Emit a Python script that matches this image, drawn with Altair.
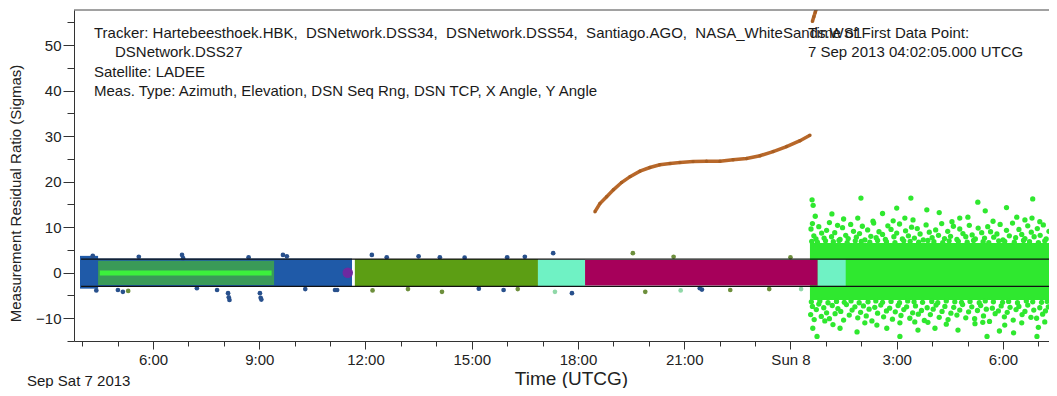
import altair as alt
import pandas as pd

# ---------------- data ----------------
# time axis: hours since Sat 7 Sep 2013 00:00 UTCG ; y: residual ratio (sigmas)

# dense residual bands (start h, end h, low, high, colour) in drawing order
band_start = [3.94, 4.42, 4.45, 4.50, 11.70, 16.87, 18.20, 24.77]
band_end   = [4.45, 11.62, 9.42, 9.35, 16.87, 18.20, 24.77, 25.56]
band_low   = [-3.5, -3.0, -2.7, -0.6, -2.9, -2.9, -2.8, -2.9]
band_high  = [3.7, 3.1, 2.6, 0.5, 3.0, 2.9, 2.8, 2.9]
band_color = ["#1f5aa8", "#1f5aa8", "#3a9a58", "#3cf03c",
              "#5c9e14", "#6ff2c4", "#a6005a", "#6ff2c4"]

# last pass (bright green) dense core
core_start = [24.55]
core_end = [31.30]
core_low = [-6.0]
core_high = [6.5]

# scattered bright-green residuals (h, sigma)
cloud_upper = [
    (24.58, 9.6), (24.62, 10.8), (24.66, 8.1), (24.72, 7.4), (24.8, 10.1), (24.88, 8.7),
    (24.95, 7.6), (25.02, 9.3), (25.1, 11.0), (25.16, 7.9), (25.25, 8.8), (25.33, 10.4),
    (25.4, 7.3), (25.47, 9.9), (25.56, 8.2), (25.63, 7.5), (25.7, 10.6), (25.78, 9.1),
    (25.86, 7.8), (25.95, 8.6), (26.03, 10.2), (26.1, 7.2), (26.18, 9.4), (26.27, 8.0),
    (26.35, 10.9), (26.42, 7.7), (26.5, 9.0), (26.6, 8.4), (26.68, 7.3), (26.75, 10.3),
    (26.84, 9.5), (26.92, 7.9), (27.0, 8.7), (27.08, 10.7), (27.16, 7.4), (27.25, 9.2),
    (27.33, 8.1), (27.42, 10.0), (27.5, 7.6), (27.58, 9.7), (27.66, 8.5), (27.75, 7.2),
    (27.83, 10.5), (27.92, 8.9), (28.0, 7.7), (28.1, 9.4), (28.18, 8.2), (28.27, 10.8),
    (28.35, 7.5), (28.44, 9.1), (28.52, 8.0), (28.6, 10.2), (28.7, 7.3), (28.78, 9.6),
    (28.87, 8.6), (28.95, 7.9), (29.05, 10.4), (29.13, 8.3), (29.22, 7.4), (29.3, 9.8),
    (29.4, 8.8), (29.48, 7.6), (29.57, 10.1), (29.65, 9.0), (29.74, 7.8), (29.83, 8.5),
    (29.92, 10.6), (30.0, 7.2), (30.1, 9.3), (30.18, 8.1), (30.27, 10.9), (30.36, 7.7),
    (30.45, 9.5), (30.53, 8.4), (30.62, 7.5), (30.7, 10.3), (30.8, 8.9), (30.88, 7.9),
    (30.97, 9.7), (31.05, 8.2), (31.14, 10.5), (31.22, 7.4), (31.3, 9.1),
]
cloud_upper_mid = [
    (24.6, 6.9), (24.76, 6.7), (24.99, 7.0), (25.21, 6.8), (25.37, 7.1), (25.6, 6.6),
    (25.83, 7.0), (26.0, 6.9), (26.24, 6.7), (26.46, 7.1), (26.71, 6.8), (26.95, 6.6),
    (27.2, 7.0), (27.38, 6.9), (27.62, 6.7), (27.88, 7.1), (28.05, 6.8), (28.3, 6.6),
    (28.48, 7.0), (28.74, 6.9), (28.99, 6.7), (29.17, 7.1), (29.44, 6.8), (29.6, 6.6),
    (29.88, 7.0), (30.05, 6.9), (30.32, 6.7), (30.58, 7.1), (30.75, 6.8), (31.0, 6.6),
    (31.18, 7.0),
]
cloud_upper_far = [
    (24.61, 16.0), (24.64, 14.8), (24.7, 12.4), (25.17, 12.9), (25.9, 12.0), (26.33, 11.3),
    (25.99, 16.4), (27.0, 14.2), (27.4, 16.4), (27.23, 12.0), (27.46, 11.6), (27.85, 13.8),
    (28.56, 11.2), (28.78, 12.0), (29.01, 12.2), (29.29, 15.5), (29.72, 11.3), (30.39, 12.2),
    (30.62, 11.6), (30.84, 16.2), (30.82, 12.0), (31.04, 11.2), (26.6, 13.0), (28.2, 13.2),
    (29.5, 13.6), (25.5, 11.8), (26.9, 11.4), (30.1, 14.3),
]
cloud_lower = [
    (24.57, -9.2), (24.62, -7.4), (24.67, -10.3), (24.73, -8.1), (24.8, -6.9), (24.87, -9.6),
    (24.94, -7.7), (25.02, -8.8), (25.1, -10.1), (25.18, -7.2), (25.26, -9.0), (25.34, -7.9),
    (25.42, -8.5), (25.5, -10.4), (25.58, -7.0), (25.66, -9.3), (25.74, -8.2), (25.82, -7.5),
    (25.9, -9.9), (25.98, -8.7), (26.06, -7.3), (26.14, -9.5), (26.22, -8.0), (26.3, -10.6),
    (26.38, -7.6), (26.46, -8.9), (26.55, -7.1), (26.63, -9.7), (26.71, -8.4), (26.8, -7.8),
    (26.88, -10.2), (26.96, -8.6), (27.04, -7.2), (27.12, -9.4), (27.2, -8.1), (27.28, -7.5),
    (27.37, -10.0), (27.45, -8.8), (27.53, -7.3), (27.61, -9.1), (27.7, -8.3), (27.78, -10.5),
    (27.86, -7.7), (27.95, -9.2), (28.03, -8.0), (28.11, -7.1), (28.2, -9.8), (28.28, -8.5),
    (28.36, -7.4), (28.45, -10.3), (28.53, -8.9), (28.61, -7.6), (28.7, -9.3), (28.78, -8.2),
    (28.86, -7.0), (28.95, -9.9), (29.03, -8.6), (29.12, -7.5), (29.2, -10.1), (29.28, -8.3),
    (29.37, -7.2), (29.45, -9.5), (29.53, -8.0), (29.62, -10.7), (29.7, -7.8), (29.78, -9.0),
    (29.87, -8.4), (29.95, -7.3), (30.04, -9.7), (30.12, -8.7), (30.2, -7.6), (30.29, -10.4),
    (30.37, -8.1), (30.45, -7.4), (30.54, -9.2), (30.62, -8.5), (30.7, -7.1), (30.79, -9.8),
    (30.87, -8.2), (30.95, -10.0), (31.04, -7.7), (31.12, -9.1), (31.2, -8.4), (31.28, -7.5),
]
cloud_lower_mid = [
    (24.59, -6.4), (24.83, -6.2), (25.06, -6.6), (25.3, -6.3), (25.52, -6.5), (25.71, -6.2),
    (25.94, -6.6), (26.19, -6.4), (26.41, -6.2), (26.6, -6.5), (26.84, -6.3), (27.08, -6.6),
    (27.31, -6.2), (27.49, -6.4), (27.73, -6.5), (27.99, -6.3), (28.16, -6.6), (28.4, -6.2),
    (28.64, -6.4), (28.83, -6.5), (29.07, -6.3), (29.33, -6.6), (29.5, -6.2), (29.73, -6.4),
    (29.99, -6.5), (30.16, -6.3), (30.41, -6.6), (30.66, -6.2), (30.84, -6.4), (31.09, -6.5),
    (31.25, -6.3),
]
cloud_lower_far = [
    (24.63, -12.2), (24.97, -10.6), (25.4, -12.2), (25.88, -13.0), (26.44, -11.5), (26.72, -12.2),
    (27.09, -11.0), (27.51, -10.8), (27.6, -12.6), (27.09, -14.0), (29.55, -14.0), (30.96, -14.0),
    (24.75, -14.0), (27.88, -10.9), (28.08, -12.2), (28.73, -12.6), (29.21, -11.2), (29.43, -10.9),
    (30.05, -11.5), (30.53, -11.0), (31.18, -10.8), (25.2, -11.4), (26.1, -11.0), (28.4, -11.3),
    (29.9, -12.8), (30.3, -13.2), (31.0, -12.0),
]

# sparse outliers of the earlier passes
outliers_navy = [
    (6.82, 3.9), (6.85, 3.2), (5.01, -3.8), (5.15, -4.2), (7.24, -3.4), (7.81, -3.8),
    (8.12, -4.5), (8.14, -5.4), (8.16, -6.0), (9.02, -4.5), (9.04, -5.5), (9.06, -5.9),
    (9.67, 3.9), (9.78, 3.6), (11.14, -3.8), (8.7, 3.4), (5.6, 3.5), (4.3, 3.7), (4.4, -3.9),
    (10.3, -3.6), (12.18, 3.9), (12.6, 3.4), (11.2, -3.8), (14.1, 3.4), (15.9, -3.8),
    (16.0, 3.4), (17.3, 4.3), (17.83, -4.5), (21.44, -3.4), (21.5, -3.7), (13.5, 3.6),
    (15.2, -3.5), (16.5, 3.5), (14.8, 3.3),
]
outliers_olive = [
    (5.3, -4.0), (12.2, -3.9), (14.16, -4.2), (19.55, 4.3), (19.9, -4.2), (13.2, -3.6),
    (16.3, -3.6), (22.3, -3.8), (20.7, 3.5), (23.4, -3.6), (24.0, 3.4),
]
outliers_pale = [(17.35, -4.2), (20.9, -3.9), (24.3, -3.6)]

purple_point = [(11.5, 0.0)]

# brown (X/Y angle) residual trend
brown_h = [18.48, 18.62, 18.81, 19.0, 19.23, 19.47, 19.75, 20.03, 20.31, 20.6, 20.88,
           21.25, 21.63, 22.01, 22.38, 22.76, 23.14, 23.51, 23.89, 24.27, 24.55]
brown_v = [13.4, 15.2, 16.7, 18.2, 19.8, 21.1, 22.3, 23.1, 23.7, 24.0, 24.2,
           24.4, 24.5, 24.5, 24.8, 25.1, 25.7, 26.6, 27.7, 29.0, 30.2]
brown2_h = [24.62, 24.66, 24.70, 24.74]
brown2_v = [55.2, 56.2, 57.2, 58.2]

sigma_levels = [3, -3]
sigma_start = 3.97
sigma_end = 31.30

x_major_ticks = [6, 9, 12, 15, 18, 21, 24, 27, 30]
x_minor_ticks = [4, 5, 7, 8, 10, 11, 13, 14, 16, 17, 19, 20, 22, 23, 25, 26, 28, 29, 31]
y_major_ticks = [-10, 0, 10, 20, 30, 40, 50]
y_minor_ticks = [-15, -5, 5, 15, 25, 35, 45, 55]

SP2 = "\u00a0\u00a0"
title_lines = [
    "Tracker: Hartebeesthoek.HBK," + SP2 + "DSNetwork.DSS34," + SP2 + "DSNetwork.DSS54,"
    + SP2 + "Santiago.AGO," + SP2 + "NASA_WhiteSands.WS1",
    "DSNetwork.DSS27",
    "Satellite: LADEE",
    "Meas. Type: Azimuth, Elevation, DSN Seq Rng, DSN TCP, X Angle, Y Angle",
]
first_point_lines = ["Time of First Data Point:", "7 Sep 2013 04:02:05.000 UTCG"]
date_label = "Sep Sat 7 2013"

# ---------------- chart ----------------
W, H = 975, 331
FONT = "Liberation Sans"
XS = alt.Scale(domain=[3.77, 31.30], nice=False, zero=False)
YS = alt.Scale(domain=[-15, 57.7], nice=False, zero=False)


def pts(pairs):
    return pd.DataFrame({"h": [p[0] for p in pairs], "v": [p[1] for p in pairs]})


def xy(xf="h:Q", yf="v:Q"):
    return dict(x=alt.X(xf, scale=XS, axis=None), y=alt.Y(yf, scale=YS, axis=None))


bands = pd.DataFrame({"h0": band_start, "h1": band_end, "lo": band_low,
                      "hi": band_high, "c": band_color, "i": list(range(len(band_start)))})
core = pd.DataFrame({"h0": core_start, "h1": core_end, "lo": core_low, "hi": core_high})

green_col = "#2fe82f"
core_layer = alt.Chart(core).mark_rect(color=green_col).encode(
    x=alt.X("h0:Q", scale=XS, axis=None), x2="h1:Q",
    y=alt.Y("lo:Q", scale=YS, axis=None), y2="hi:Q")

cloud = pd.concat([pts(cloud_upper), pts(cloud_upper_mid), pts(cloud_upper_far),
                   pts(cloud_lower), pts(cloud_lower_mid), pts(cloud_lower_far)])
cloud_layer = alt.Chart(cloud).mark_circle(size=28, opacity=1, color=green_col).encode(**xy())

band_layer = alt.Chart(bands).mark_rect().encode(
    x=alt.X("h0:Q", scale=XS, axis=None), x2="h1:Q",
    y=alt.Y("lo:Q", scale=YS, axis=None), y2="hi:Q",
    color=alt.Color("c:N", scale=None), order="i:Q")

purple_layer = alt.Chart(pts(purple_point)).mark_circle(size=110, opacity=1, color="#6e2aa0").encode(**xy())
navy_layer = alt.Chart(pts(outliers_navy)).mark_circle(size=22, opacity=1, color="#28508c").encode(**xy())
olive_layer = alt.Chart(pts(outliers_olive)).mark_circle(size=22, opacity=1, color="#6d8f3c").encode(**xy())
pale_layer = alt.Chart(pts(outliers_pale)).mark_circle(size=22, opacity=1, color="#90d8a8").encode(**xy())

sig = pd.DataFrame({"v": sigma_levels, "h0": sigma_start, "h1": sigma_end})

x_major = alt.Axis(values=x_major_ticks, orient="bottom",
                   labelExpr="datum.value == 24 ? 'Sun 8' : (datum.value % 24) + ':00'",
                   tickSize=8, labelPadding=3, labelFontSize=15, labelColor="#222",
                   labelOverlap=False, labelFlush=False, grid=False,
                   domainColor="#333", tickColor="#333",
                   title="Time (UTCG)", titleFontSize=19, titleFontWeight="normal",
                   titleColor="#222", titleX=497, titleY=43, titleAlign="center",
                   titleBaseline="alphabetic")
y_major = alt.Axis(values=y_major_ticks, orient="left", tickSize=11, labelPadding=2,
                   labelFontSize=15, labelColor="#222", labelOverlap=False, labelFlush=False,
                   grid=False, domainColor="#333", tickColor="#333",
                   title="Measurement Residual Ratio (Sigmas)", titleFontSize=15,
                   titleFontWeight="normal", titleColor="#222", titleX=-59, titleY=183,
                   titleAngle=270, titleAlign="center", titleBaseline="middle")
x_minor = alt.Axis(values=x_minor_ticks, orient="bottom", tickSize=5, labels=False,
                   domain=False, grid=False, tickColor="#333", title=None)
y_minor = alt.Axis(values=y_minor_ticks, orient="left", tickSize=7, labels=False,
                   domain=False, grid=False, tickColor="#333", title=None)

sigma_layer = alt.Chart(sig).mark_rule(color="#111", strokeWidth=1.2).encode(
    x=alt.X("h0:Q", scale=XS, axis=x_major), x2="h1:Q",
    y=alt.Y("v:Q", scale=YS, axis=y_major))
minor_layer = alt.Chart(sig).mark_rule(opacity=0).encode(
    x=alt.X("h0:Q", scale=XS, axis=x_minor), x2="h1:Q",
    y=alt.Y("v:Q", scale=YS, axis=y_minor))

brown = pd.concat([
    pd.DataFrame({"h": brown_h, "v": brown_v, "piece": "a"}),
    pd.DataFrame({"h": brown2_h, "v": brown2_v, "piece": "b"}),
])
brown_line = alt.Chart(brown).mark_line(color="#b8682a", strokeWidth=3.5, clip=True).encode(
    detail="piece:N", **xy())
brown_pts = alt.Chart(brown).mark_circle(color="#a85e22", size=12, opacity=1, clip=True).encode(**xy())

one = pd.DataFrame({"k": [0]})
frame_top = alt.Chart(one).mark_rule(color="#444", strokeWidth=1).encode(
    x=alt.value(0), x2=alt.value(W), y=alt.value(0))


def label(text, x, y, size=15, align="left"):
    return alt.Chart(one).mark_text(align=align, baseline="middle", fontSize=size,
                                    color="#1a1a1a").encode(
        x=alt.value(x), y=alt.value(y), text=alt.value(text))


texts = [
    label(title_lines[0], 20, 23),
    label(title_lines[1], 41, 42),
    label(title_lines[2], 20, 62),
    label(title_lines[3], 20, 81),
    label(first_point_lines[0], 734, 23),
    label(first_point_lines[1], 734, 42),
    label(date_label, -47, 371),
]

chart = alt.layer(
    core_layer, cloud_layer, band_layer, purple_layer,
    navy_layer, olive_layer, pale_layer,
    sigma_layer, minor_layer, brown_line, brown_pts, frame_top, *texts,
).resolve_axis(x="independent", y="independent").properties(
    width=W, height=H,
    padding={"left": 66, "top": 2, "right": 0, "bottom": 47},
    autosize=alt.AutoSizeParams(type="none"),
    background="white",
).configure(font=FONT).configure_view(stroke="transparent")

chart.save("out.html", embed_options={"renderer": "svg", "actions": False})
